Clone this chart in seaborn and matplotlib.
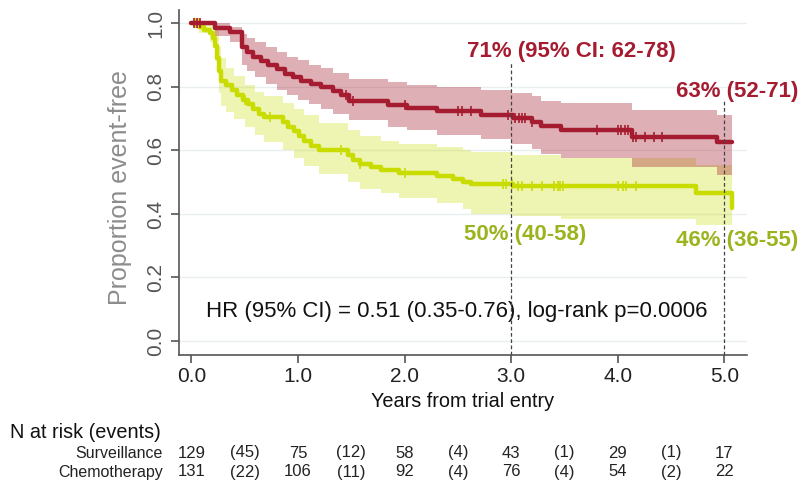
import numpy as np
import matplotlib
matplotlib.use("Agg")
import matplotlib.pyplot as plt
import seaborn as sns

# ---- Kaplan-Meier estimates (step times in years, event-free proportion) ----
chemo_t = [0.00, 0.22, 0.36, 0.47, 0.52, 0.58, 0.65, 0.72, 0.80, 0.88, 0.95, 1.03,
           1.12, 1.22, 1.33, 1.40, 1.48, 1.84, 2.02, 2.30, 2.72, 3.02, 3.20, 3.28,
           3.47, 4.13, 4.93, 5.07]
chemo_s = [1.000, 0.985, 0.973, 0.925, 0.910, 0.895, 0.880, 0.868, 0.855, 0.842, 0.830, 0.820,
           0.810, 0.800, 0.787, 0.775, 0.755, 0.743, 0.733, 0.725, 0.713, 0.703, 0.690, 0.678,
           0.665, 0.643, 0.626, 0.626]

chemo_ci_t = [0.00, 0.22, 0.36, 0.47, 0.52, 0.60, 0.70, 0.80, 0.90, 1.00, 1.10, 1.22,
              1.33, 1.48, 1.84, 2.02, 2.30, 2.72, 3.00, 3.20, 3.28, 3.47, 4.13, 4.93, 5.07]
chemo_hi = [1.000, 1.000, 0.990, 0.965, 0.955, 0.940, 0.925, 0.910, 0.895, 0.885, 0.870, 0.860,
            0.845, 0.825, 0.815, 0.805, 0.800, 0.790, 0.780, 0.770, 0.755, 0.748, 0.728, 0.710, 0.710]
chemo_lo = [1.000, 0.960, 0.940, 0.870, 0.850, 0.830, 0.810, 0.790, 0.775, 0.760, 0.745, 0.730,
            0.715, 0.695, 0.675, 0.665, 0.650, 0.635, 0.620, 0.605, 0.590, 0.575, 0.548, 0.523, 0.523]

surv_t = [0.00, 0.07, 0.12, 0.17, 0.20, 0.22, 0.24, 0.26, 0.28, 0.32, 0.38, 0.43,
          0.48, 0.53, 0.58, 0.63, 0.68, 0.86, 0.91, 0.96, 1.01, 1.06, 1.12, 1.20,
          1.47, 1.52, 1.58, 1.68, 1.78, 1.95, 2.30, 2.45, 2.55, 2.62, 3.02, 4.73, 5.07]
surv_s = [1.000, 0.990, 0.980, 0.970, 0.955, 0.930, 0.890, 0.850, 0.820, 0.805, 0.790, 0.775,
          0.760, 0.745, 0.730, 0.715, 0.705, 0.690, 0.675, 0.660, 0.645, 0.630, 0.615, 0.600,
          0.585, 0.570, 0.558, 0.548, 0.538, 0.528, 0.520, 0.510, 0.500, 0.495, 0.487, 0.466, 0.420]

surv_ci_t = [0.00, 0.07, 0.17, 0.22, 0.26, 0.28, 0.32, 0.40, 0.50, 0.60, 0.68, 0.86,
             0.96, 1.06, 1.20, 1.47, 1.58, 1.78, 1.95, 2.30, 2.55, 2.62, 3.02, 3.47, 4.73, 5.07]
surv_hi = [1.000, 1.000, 0.995, 0.980, 0.930, 0.890, 0.860, 0.835, 0.805, 0.785, 0.770, 0.750,
           0.730, 0.710, 0.685, 0.665, 0.645, 0.630, 0.620, 0.610, 0.600, 0.595, 0.585, 0.575, 0.553, 0.553]
surv_lo = [1.000, 0.970, 0.940, 0.880, 0.780, 0.740, 0.720, 0.700, 0.675, 0.650, 0.625, 0.600,
           0.575, 0.550, 0.525, 0.500, 0.480, 0.465, 0.450, 0.435, 0.415, 0.400, 0.395, 0.385, 0.365, 0.365]

# censoring times
chemo_cens = [0.02, 0.05, 0.08, 1.45, 1.52, 2.00, 2.50, 2.54, 2.62, 2.97, 3.04, 3.07,
              3.10, 3.13, 3.20, 3.81, 4.00, 4.03, 4.07, 4.10, 4.14, 4.17, 4.26, 4.34, 4.42]
surv_cens = [0.03, 0.06, 0.50, 0.74, 1.40, 1.58, 2.00, 2.92, 2.95, 3.01, 3.06, 3.10,
             3.20, 3.29, 3.40, 3.44, 3.46, 3.49, 4.00, 4.05, 4.08, 4.17]

# numbers at risk and events per interval
risk_years = [0, 1, 2, 3, 4, 5]
surv_at_risk = [129, 75, 58, 43, 29, 17]
surv_events = [45, 12, 4, 1, 1]
chemo_at_risk = [131, 106, 92, 76, 54, 22]
chemo_events = [22, 11, 4, 4, 2]

x_ticks = [0, 1, 2, 3, 4, 5]
x_ticklabels = ["0.0", "1.0", "2.0", "3.0", "4.0", "5.0"]
y_ticks = [0.0, 0.2, 0.4, 0.6, 0.8, 1.0]
y_ticklabels = ["0.0", "0.2", "0.4", "0.6", "0.8", "1.0"]

RED = "#A51C30"
GREEN = "#C8DC00"
GREEN_TXT = "#9AB41E"

sns.set_theme(style="white")
plt.rcParams["font.family"] = ["Liberation Sans", "DejaVu Sans"]

W, H = 799, 484
fig = plt.figure(figsize=(W / 100, H / 100), dpi=100)
ax = fig.add_axes([179 / W, 1 - 355 / H, (747 - 179) / W, (355 - 10) / H])


def step_value(times, values, t):
    idx = np.searchsorted(times, t, side="right") - 1
    return np.asarray(values)[idx]


# confidence bands
ax.fill_between(surv_ci_t, surv_lo, surv_hi, step="post", color=GREEN, alpha=0.3, lw=0, zorder=1)
ax.fill_between(chemo_ci_t, chemo_lo, chemo_hi, step="post", color=RED, alpha=0.35, lw=0, zorder=2)

# survival curves
sns.lineplot(x=surv_t, y=surv_s, drawstyle="steps-post", color=GREEN, lw=3.2, ax=ax, zorder=3)
sns.lineplot(x=chemo_t, y=chemo_s, drawstyle="steps-post", color=RED, lw=3.2, ax=ax, zorder=4)

# censoring marks
ax.plot(surv_cens, step_value(surv_t, surv_s, surv_cens), ls="none", marker="|",
        ms=7, mew=1.2, color=GREEN, zorder=3)
ax.plot(chemo_cens, step_value(chemo_t, chemo_s, chemo_cens), ls="none", marker="|",
        ms=7, mew=1.2, color=RED, zorder=4)

ax.set_xlim(-0.117, 5.213)
ax.set_ylim(-0.044, 1.042)

# faint horizontal grid
for yv in y_ticks:
    ax.axhline(yv, color="#e9eeee", lw=1, zorder=0)

# reference lines at 3 and 5 years
ax.plot([3, 3], [-0.044, 0.875], ls=(0, (3, 2)), color="#444444", lw=0.9, zorder=5)
ax.plot([5, 5], [-0.044, 0.76], ls=(0, (3, 2)), color="#444444", lw=0.9, zorder=5)

for s in ["top", "right"]:
    ax.spines[s].set_visible(False)
for s in ["left", "bottom"]:
    ax.spines[s].set_color("#555555")
    ax.spines[s].set_linewidth(1.2)

ax.set_xticks(x_ticks)
ax.set_xticklabels(x_ticklabels)
ax.set_yticks(y_ticks)
ax.set_yticklabels(y_ticklabels, rotation=90, va="center")
ax.tick_params(axis="both", direction="out", length=6, width=1.2, color="#555555",
               labelsize=15, left=True, bottom=True)
ax.tick_params(axis="x", pad=3, labelcolor="#222222")
ax.tick_params(axis="y", pad=4, labelcolor="#555555")

ax.set_xlabel("Years from trial entry", fontsize=14.3, color="#111111")
ax.xaxis.set_label_coords(0.5, (355 - 392) / 345)
ax.set_ylabel("Proportion event-free", fontsize=18, color="#8c8c8c", va="center")
ax.yaxis.set_label_coords((120 - 179) / 568, (355 - 188) / 345)

# estimates at 3 and 5 years
ax.text(2.59, 0.91, "71% (95% CI: 62-78)", color=RED, fontsize=16, fontweight="bold",
        ha="left", va="center")
ax.text(4.55, 0.784, "63% (52-71)", color=RED, fontsize=16, fontweight="bold",
        ha="left", va="center")
ax.text(2.56, 0.334, "50% (40-58)", color=GREEN_TXT, fontsize=16, fontweight="bold",
        ha="left", va="center")
ax.text(4.55, 0.318, "46% (36-55)", color=GREEN_TXT, fontsize=16, fontweight="bold",
        ha="left", va="center")

ax.text(2.49, 0.092, "HR (95% CI) = 0.51 (0.35-0.76), log-rank p=0.0006", fontsize=16,
        color="#111111", ha="center", va="center")

# numbers at risk table
fig.text(10 / W, 1 - 432 / H, "N at risk (events)", fontsize=14.3, color="#111111",
         ha="left", va="center")
row_y = {"Surveillance": 1 - 453 / H, "Chemotherapy": 1 - 472 / H}
rows = [("Surveillance", surv_at_risk, surv_events),
        ("Chemotherapy", chemo_at_risk, chemo_events)]
for name, n_risk, n_ev in rows:
    yy = row_y[name]
    fig.text(163 / W, yy, name, fontsize=11.5, color="#222222", ha="right", va="center")
    for yr, n in zip(risk_years, n_risk):
        ax.annotate(str(n), xy=(yr, yy), xycoords=("data", "figure fraction"),
                    fontsize=12, color="#222222", ha="center", va="center",
                    annotation_clip=False)
    for yr, e in zip(risk_years[:-1], n_ev):
        ax.annotate(f"({e})", xy=(yr + 0.5, yy), xycoords=("data", "figure fraction"),
                    fontsize=12, color="#222222", ha="center", va="center",
                    annotation_clip=False)

fig.savefig("out.png", dpi=100)
